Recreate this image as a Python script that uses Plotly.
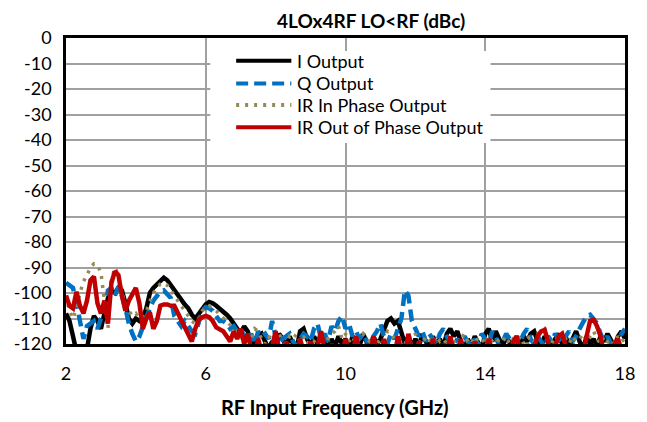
import numpy as np
import plotly.graph_objects as go

# RF input frequency (GHz), 0.1 GHz steps from 2 to 18
freq = [round(2.0 + 0.1 * k, 1) for k in range(161)]

i_output = [
    -108, -111, -117, -123, -126, -126, -122, -114, -109, -111,
    -114, -108, -102, -99, -100, -98, -99, -104, -110, -112,
    -110, -111, -110, -106, -100, -98, -96.5, -95, -94, -95,
    -97, -98.5, -100.5, -102.5, -104.5, -106, -108.5, -110, -108, -106,
    -104.5, -103.5, -104, -105, -106, -107, -108.5, -110, -112, -114,
    -116, -113, -115, -119, -121, -117, -116, -119, -122, -119,
    -121, -116, -118, -121, -117, -120, -122, -115, -114, -118,
    -121, -117, -120, -116, -119, -122, -118, -121, -117, -120,
    -118, -122, -117, -119, -121, -116, -119, -122, -117, -120,
    -118, -114, -111, -110, -112, -111, -116, -120, -117, -121,
    -118, -121, -116, -119, -122, -117, -120, -118, -121, -116,
    -114, -117, -115, -119, -122, -118, -121, -117, -120, -122,
    -116, -114, -119, -115, -118, -121, -117, -120, -122, -118,
    -121, -117, -119, -116, -115, -119, -121, -117, -120, -122,
    -118, -116, -120, -117, -121, -118, -115, -119, -122, -117,
    -120, -118, -121, -117, -119, -116, -119, -121, -117, -115,
    -118,
]

q_output = [
    -96, -97, -98, -104, -112, -118, -113, -112, -111, -114,
    -110, -108, -99, -98, -101, -97.5, -101, -106, -112, -116,
    -119, -117, -113, -109, -106, -103, -101, -99.5, -99, -100.5,
    -102, -109, -111, -113, -111, -113, -115, -116, -111, -107,
    -105.5, -106, -107, -109, -111, -111, -112, -114, -113, -115,
    -114, -117, -119, -116, -120, -115, -117, -116, -118, -111,
    -117, -120, -118, -117, -116, -119, -121, -118, -116, -117,
    -119, -114, -112, -118, -116, -119, -113, -115, -111, -109,
    -114, -112, -117, -115, -118, -116, -119, -121, -117, -115,
    -112, -117, -120, -116, -118, -114, -110, -99, -101, -111,
    -114, -117, -115, -119, -116, -118, -120, -116, -114, -117,
    -119, -121, -118, -120, -117, -119, -121, -118, -120, -116,
    -118, -120, -115, -117, -121, -119, -116, -118, -120, -117,
    -119, -116, -114, -118, -120, -117, -119, -121, -117, -119,
    -116, -118, -120, -117, -115, -119, -117, -114, -111, -109,
    -108.5, -110, -112, -116, -119, -117, -120, -118, -121, -116,
    -114,
]

ir_in_phase = [
    -101, -107, -110, -106, -100, -95.5, -93, -90, -88.5, -89,
    -92, -103, -114, -95, -90, -93, -100, -104, -107, -109,
    -108, -110, -109, -107, -103, -100, -98, -96.5, -96, -97,
    -99, -101, -103, -105, -107, -109, -111, -112, -110, -107,
    -105.5, -105, -106, -107, -108.5, -110, -111, -112.5, -114, -116,
    -117, -119, -117, -118, -114, -115, -118, -120, -117, -119,
    -118, -116, -119, -120, -117, -118, -116, -119, -117, -120,
    -118, -119, -117, -119, -121, -118, -116, -115, -113, -118,
    -116, -119, -117, -120, -118, -116, -118, -119, -117, -120,
    -118, -119, -115, -116, -118, -117, -119, -120, -117, -118,
    -116, -119, -120, -117, -118, -120, -117, -119, -118, -120,
    -117, -119, -121, -118, -116, -119, -120, -117, -119, -118,
    -120, -117, -119, -120, -118, -119, -117, -120, -118, -119,
    -117, -120, -118, -117, -119, -116, -115, -114, -118, -120,
    -117, -119, -116, -118, -120, -117, -119, -118, -116, -119,
    -117, -115, -118, -120, -117, -119, -118, -120, -117, -119,
    -118,
]

ir_out_phase = [
    -101, -105, -106, -99.5, -105, -108, -103, -95, -93.5, -104,
    -108, -103, -112, -96, -91.5, -93, -101, -107, -103, -100.5,
    -98, -104, -114, -110, -107.5, -114, -111, -105, -104.5, -104.5,
    -105, -105, -108, -110, -113, -116, -119, -114, -110.5, -109.5,
    -109, -109.5, -111, -113.5, -114.5, -115, -117, -119, -115, -118,
    -114, -120, -116, -122, -124, -118, -123, -120, -125, -121,
    -115, -122, -125, -119, -124, -121, -125, -118, -123, -125,
    -119, -124, -121, -115, -122, -125, -120, -124, -122, -125,
    -118, -123, -125, -117, -122, -125, -120, -124, -117, -123,
    -125, -118, -124, -121, -125, -117, -123, -125, -116, -122,
    -125, -119, -124, -121, -125, -118, -123, -125, -120, -124,
    -117, -123, -125, -118, -124, -121, -125, -119, -124, -122,
    -125, -118, -123, -125, -120, -124, -121, -125, -119, -117,
    -123, -125, -120, -124, -121, -117, -115, -114.5, -119, -124,
    -121, -117, -116, -121, -125, -120, -124, -122, -125, -117,
    -111, -110.5, -113, -117, -124, -121, -125, -120, -118, -123,
    -125,
]

series_names = ["I Output", "Q Output", "IR In Phase Output", "IR Out of Phase Output"]
x_ticks = [2, 6, 10, 14, 18]
y_ticks = list(range(-120, 1, 10))

colors = ["#000000", "#0070C0", "#948A54", "#C00000"]
dashes = ["solid", "12px,6px", "3px,6px", "solid"]
widths = [4.5, 4.5, 3.5, 4.5]
data = [i_output, q_output, ir_in_phase, ir_out_phase]

FONT = "Lato"

# The page body has an 8px default margin, so the figure is drawn 8px smaller
# and all page-pixel targets are shifted by 8px.
OFF = 8
W, H = 647 - OFF, 422 - OFF
L, R, T, B = 66 - OFF, 22, 38 - OFF, 78
pw, ph = W - L - R, H - T - B


def px_to_paper(px, py):
    px -= OFF
    py -= OFF
    return (px - L) / pw, ((H - py) - B) / ph


fig = go.Figure()
for name, vals, c, d, w in zip(series_names, data, colors, dashes, widths):
    fig.add_trace(go.Scatter(x=freq, y=vals, mode="lines", name=name,
                             line=dict(color=c, dash=d, width=w),
                             showlegend=False))

# legend box (white, covering gridlines)
shapes = [dict(type="rect", xref="x", yref="y", x0=6.13, x1=14.15, y0=-5.1, y1=-41.2,
               fillcolor="white", line=dict(width=0), layer="above")]
annotations = []
leg_y = [-8.9, -17.8, -26.3, -35.0]
for name, c, d, w, ly in zip(series_names, colors, dashes, widths, leg_y):
    shapes.append(dict(type="line", xref="x", yref="y", x0=6.87, x1=8.45, y0=ly, y1=ly,
                       line=dict(color=c, width=4, dash=d), layer="above"))
    annotations.append(dict(x=8.56, y=ly, xref="x", yref="y", text=name, showarrow=False,
                            xanchor="left", yanchor="middle",
                            font=dict(family=FONT, size=18, color="#000000")))

tx, ty = px_to_paper(371, 8.5)
annotations.append(dict(x=tx, y=ty, xref="paper", yref="paper", text="<b>4LOx4RF LO&lt;RF (dBc)</b>",
                        showarrow=False, xanchor="center", yanchor="top", borderpad=0,
                        font=dict(family=FONT, size=19, color="#000000")))
ax_, ay_ = px_to_paper(335, 407)
annotations.append(dict(x=ax_, y=ay_, xref="paper", yref="paper", text="<b>RF Input Frequency (GHz)</b>",
                        showarrow=False, xanchor="center", yanchor="middle",
                        font=dict(family=FONT, size=20, color="#000000")))

fig.update_layout(
    width=W, height=H,
    margin=dict(l=L, r=R, t=T, b=B, autoexpand=False),
    paper_bgcolor="white", plot_bgcolor="white",
    font=dict(family=FONT, size=18, color="#000000"),
    shapes=shapes, annotations=annotations,
    showlegend=False,
)
fig.update_xaxes(range=[2, 18], tickvals=x_ticks, ticktext=[str(t) for t in x_ticks],
                 showgrid=True, gridcolor="#A0A0A0", gridwidth=1.5,
                 showline=True, mirror=True, linecolor="#000000", linewidth=2.5,
                 zeroline=False, ticks="", ticklabelstandoff=12, automargin=False,
                 tickfont=dict(family=FONT, size=18))
fig.update_yaxes(range=[-120, 0], tickvals=y_ticks, ticktext=[str(t) for t in y_ticks],
                 showgrid=True, gridcolor="#A0A0A0", gridwidth=1.5,
                 showline=True, mirror=True, linecolor="#000000", linewidth=2.5,
                 zeroline=False, ticks="", ticklabelstandoff=8, automargin=False,
                 tickfont=dict(family=FONT, size=18))

fig.write_html("out.html")
